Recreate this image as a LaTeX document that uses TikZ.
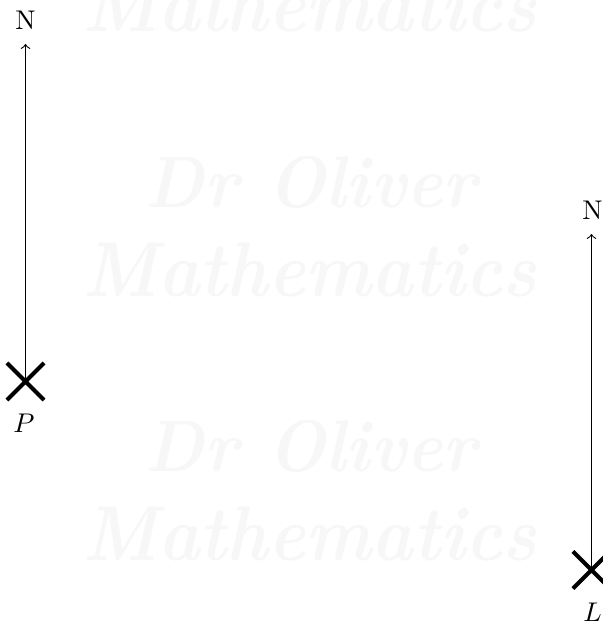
\documentclass[tikz,border=0pt]{standalone}
\usetikzlibrary{shapes.misc}
\begin{document}
\begin{tikzpicture}[x=0.37pt,y=-0.37pt,
  northarrow/.style={->,line width=0.4pt},
  crossmark/.style={cross out,draw,line width=1.5pt,minimum size=12.2pt,inner sep=0pt},
  lbl/.style={inner sep=0pt},
  wm/.style={inner sep=0pt,text=black!3,font=\bfseries\itshape}]
\useasboundingbox (0,0) rectangle (603,627);
\clip (0,0) rectangle (603,627);
% watermark
\node[wm] (wm1) at (310,5) {\resizebox{168pt}{20pt}{Mathematics}};
\node[wm] (wm2) at (311,182) {\resizebox{123pt}{19pt}{Dr Oliver}};
\node[wm] (wm3) at (310,270) {\resizebox{168pt}{20pt}{Mathematics}};
\node[wm] (wm4) at (311,446) {\resizebox{123pt}{19pt}{Dr Oliver}};
\node[wm] (wm5) at (310,534) {\resizebox{168pt}{20pt}{Mathematics}};
% P
\node[crossmark] (P) at (25.5,381.5) {};
\coordinate (Ptip) at (25.5,44);
\draw[northarrow] (P.center) -- (Ptip);
\node[lbl] (NP) at (25.5,20) {N};
\node[lbl] (Plab) at (24,423) {$P$};
% L
\node[crossmark] (L) at (591.5,570) {};
\coordinate (Ltip) at (591.5,234);
\draw[northarrow] (L.center) -- (Ltip);
\node[lbl] (NL) at (592.5,210) {N};
\node[lbl] (Llab) at (592.5,612) {$L$};
\end{tikzpicture}
\end{document}
